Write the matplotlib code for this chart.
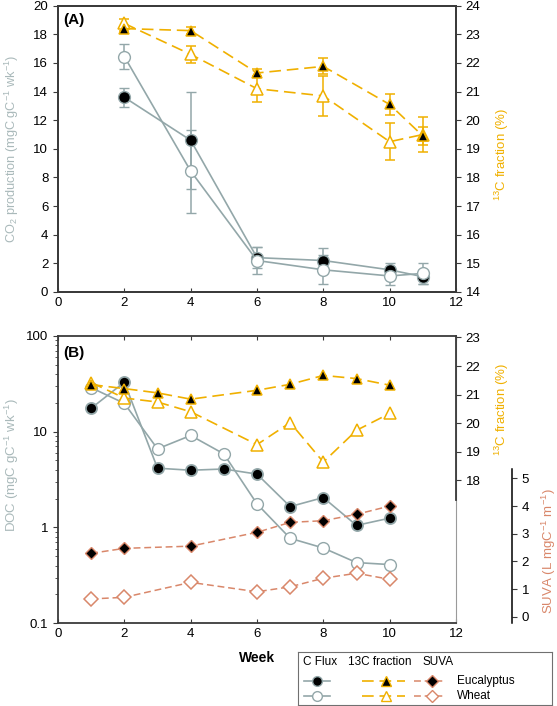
import matplotlib
matplotlib.use("Agg")
import matplotlib.pyplot as plt
from matplotlib.lines import Line2D
import numpy as np

plt.rcParams['font.family'] = ['Liberation Sans', 'DejaVu Sans']
plt.rcParams['font.size'] = 9.5
plt.rcParams['mathtext.fontset'] = 'custom'
plt.rcParams['mathtext.rm'] = 'Liberation Sans'
plt.rcParams['mathtext.default'] = 'regular'

# ---------------- data ----------------
weeks_A = [2, 4, 6, 8, 10, 11]
co2_euc = [13.6, 10.6, 2.4, 2.2, 1.55, 1.07]
co2_euc_err = [0.65, 3.4, 0.75, 0.85, 0.45, 0.5]
co2_wheat = [16.45, 8.45, 2.2, 1.55, 1.12, 1.3]
co2_wheat_err = [0.85, 2.9, 0.95, 1.0, 0.6, 0.75]
c13A_euc = [23.2, 23.13, 21.65, 21.88, 20.55, 19.45]
c13A_euc_err = [0.1, 0.12, 0.15, 0.28, 0.38, 0.3]
c13A_wheat = [23.38, 22.3, 21.1, 20.85, 19.25, 19.5]
c13A_wheat_err = [0.15, 0.3, 0.45, 0.7, 0.65, 0.6]

weeks_B = [1, 2, 3, 4, 5, 6, 7, 8, 9, 10]
doc_euc = [17.5, 32.7, 4.15, 3.95, 4.07, 3.6, 1.65, 2.05, 1.05, 1.25]
doc_wheat = [28.7, 19.7, 6.6, 9.1, 5.85, 1.76, 0.77, 0.61, 0.43, 0.41]
weeks_B13 = [1, 2, 3, 4, 6, 7, 8, 9, 10]
c13B_euc = [21.35, 21.21, 21.06, 20.84, 21.15, 21.36, 21.67, 21.56, 21.33]
c13B_wheat = [21.42, 20.88, 20.74, 20.4, 19.25, 20.02, 18.64, 19.75, 20.34]
weeks_suva = [1, 2, 4, 6, 7, 8, 9, 10]
suva_euc = [2.29, 2.47, 2.55, 3.05, 3.41, 3.47, 3.7, 4.0]
suva_wheat = [0.64, 0.70, 1.24, 0.90, 1.08, 1.39, 1.57, 1.35]

x_ticks = [0, 2, 4, 6, 8, 10, 12]
legend_groups = ["C Flux", "13C fraction", "SUVA"]
legend_labels = ["Eucalyptus", "Wheat"]

# ---------------- styles ----------------
GRAY = '#93a7a9'
GRAYLAB = '#a9b9ba'
ORANGE = '#f0b000'
SALMON = '#d9876a'
SPINE = '#3a3a3a'

W, H = 557, 706
fig = plt.figure(figsize=(W / 100, H / 100), dpi=100)

def fbox(l, t, r, b):
    return [l / W, 1 - b / H, (r - l) / W, (b - t) / H]

ms = 8.5
cap = 3.3
dash_13 = (7, 3.5)
dash_suva = (4.5, 2.5)
AXW = 398.0

def style_axis(ax):
    for s in ax.spines.values():
        s.set_color(SPINE)
        s.set_linewidth(1.3)
    ax.tick_params(axis='both', colors=SPINE, labelcolor='black', width=0.8, length=3.5)

# ---------------- panel A ----------------
axA = fig.add_axes(fbox(58, 5.7, 456, 292))
style_axis(axA)
axA.errorbar(weeks_A, co2_euc, yerr=co2_euc_err, color=GRAY, lw=1.2, marker='o', ms=ms,
             mfc='black', mec=GRAY, mew=1.0, ecolor=GRAY, elinewidth=1.1, capsize=cap, capthick=1.1, zorder=3)
axA.errorbar(weeks_A, co2_wheat, yerr=co2_wheat_err, color=GRAY, lw=1.2, marker='o', ms=ms,
             mfc='white', mec=GRAY, mew=1.0, ecolor=GRAY, elinewidth=1.1, capsize=cap, capthick=1.1, zorder=3)
axA.set_xlim(0, 12)
axA.set_ylim(0, 20)
axA.set_xticks(x_ticks)
axA.set_yticks(np.arange(0, 21, 2))
axA.tick_params(axis='x', direction='in', length=3)
axA.tick_params(axis='y', direction='out')
axA.set_ylabel('CO$_2$ production (mgC gC$^{-1}$ wk$^{-1}$)', color=GRAYLAB, fontsize=9.2)
axA.yaxis.set_label_coords(-37 / AXW, 0.5)
axA.text(0.013, 0.95, '(A)', transform=axA.transAxes, fontweight='bold', fontsize=11, va='center')

axA2 = axA.twinx()
style_axis(axA2)
axA2.errorbar(weeks_A, c13A_wheat, yerr=c13A_wheat_err, color=ORANGE, lw=1.2, dashes=dash_13,
              marker='^', ms=ms, mfc='white', mec=ORANGE, mew=1.1, ecolor=ORANGE, elinewidth=1.1,
              capsize=cap, capthick=1.1, zorder=3)
axA2.errorbar(weeks_A, c13A_euc, yerr=c13A_euc_err, color=ORANGE, lw=1.2, dashes=dash_13,
              marker='^', ms=ms - 1, mfc='black', mec=ORANGE, mew=1.1, ecolor=ORANGE, elinewidth=1.1,
              capsize=cap, capthick=1.1, zorder=3)
axA2.set_ylim(14, 24)
axA2.set_yticks(np.arange(14, 25, 1))
axA2.tick_params(axis='y', direction='out')
axA2.set_ylabel('$^{13}$C fraction (%)', color=ORANGE, fontsize=9.5, rotation=90)
axA2.yaxis.set_label_coords(1 + 37 / AXW, 0.48)

# ---------------- panel B ----------------
axB = fig.add_axes(fbox(58, 335.7, 456, 623.3))
style_axis(axB)
axB.spines['right'].set_color('#9a9a9a')
axB.spines['right'].set_linewidth(0.8)
axB.plot(weeks_B, doc_euc, color=GRAY, lw=1.2, marker='o', ms=ms - 0.5, mfc='black', mec=GRAY, mew=1.3, zorder=3)
axB.plot(weeks_B, doc_wheat, color=GRAY, lw=1.2, marker='o', ms=ms, mfc='white', mec=GRAY, mew=1.0, zorder=3)
axB.set_yscale('log')
axB.set_ylim(0.1, 100)
axB.set_xlim(0, 12)
axB.set_xticks(x_ticks)
axB.set_yticks([0.1, 1, 10, 100])
axB.set_yticklabels(['0.1', '1', '10', '100'])
axB.tick_params(axis='x', direction='in', length=3, top=True)
axB.tick_params(axis='y', which='major', direction='out', length=3.5)
axB.tick_params(axis='y', which='minor', direction='out', length=2, color=SPINE, width=0.6)
axB.set_ylabel('DOC (mgC gC$^{-1}$ wk$^{-1}$)', color=GRAYLAB, fontsize=9.5)
axB.yaxis.set_label_coords(-37 / AXW, 0.55)
axB.set_xlabel('Week', fontweight='bold', fontsize=10)
axB.xaxis.set_label_coords(0.5, -0.095)
axB.text(0.013, 0.94, '(B)', transform=axB.transAxes, fontweight='bold', fontsize=11, va='center')

axB2 = axB.twinx()
for s in ['top', 'bottom', 'left']:
    axB2.spines[s].set_visible(False)
axB2.spines['right'].set_color(SPINE)
axB2.spines['right'].set_linewidth(1.3)
axB2.tick_params(axis='y', colors=SPINE, labelcolor='black', width=0.8, length=3.5, direction='out')
axB2.plot(weeks_B13, c13B_wheat, color=ORANGE, lw=1.2, dashes=dash_13, marker='^', ms=ms,
          mfc='white', mec=ORANGE, mew=1.1, zorder=3)
axB2.plot(weeks_B13, c13B_euc, color=ORANGE, lw=1.2, dashes=dash_13, marker='^', ms=ms - 1,
          mfc='black', mec=ORANGE, mew=1.1, zorder=3)
axB2.set_ylim(13, 23.06)
axB2.set_yticks(np.arange(18, 24, 1))
axB2.spines['right'].set_bounds(17.3, 23.06)
axB2.set_ylabel('$^{13}$C fraction (%)', color=ORANGE, fontsize=9.5)
axB2.yaxis.set_label_coords(1 + 37 / AXW, 0.745)

axB3 = axB.twinx()
for s in ['top', 'bottom', 'left']:
    axB3.spines[s].set_visible(False)
axB3.spines['right'].set_position(('outward', 56 * 0.72))
axB3.spines['right'].set_color('black')
axB3.spines['right'].set_linewidth(1.1)
axB3.tick_params(axis='y', colors=SPINE, labelcolor='black', width=0.8, length=3.5, direction='out')
axB3.plot(weeks_suva, suva_euc, color=SALMON, lw=1.1, dashes=dash_suva, marker='D', ms=ms - 2,
          mfc='black', mec=SALMON, mew=1.0, zorder=3)
axB3.plot(weeks_suva, suva_wheat, color=SALMON, lw=1.1, dashes=dash_suva, marker='D', ms=ms - 1.5,
          mfc='white', mec=SALMON, mew=1.1, zorder=3)
axB3.set_ylim(-0.24, 10.16)
axB3.set_yticks(np.arange(0, 6, 1))
axB3.spines['right'].set_bounds(-0.24, 5.34)
axB3.set_ylabel('SUVA (L mgC$^{-1}$ m$^{-1}$)', color=SALMON, fontsize=9.5)
axB3.yaxis.set_label_coords(1 + 84 / AXW, 0.25)

# ---------------- legend ----------------
axL = fig.add_axes(fbox(298.3, 652.3, 551.7, 705))
axL.set_xlim(298.3, 551.7)
axL.set_ylim(705, 652.3)
axL.set_xticks([])
axL.set_yticks([])
for s in axL.spines.values():
    s.set_color('#707070')
    s.set_linewidth(0.8)
fs = 8.5
axL.text(302.7, 662.3, legend_groups[0], fontsize=fs, va='center')
axL.text(347.7, 662.3, legend_groups[1], fontsize=fs, va='center')
axL.text(422.7, 662.3, legend_groups[2], fontsize=fs, va='center')
rows = [681, 696]
fills = ['black', 'white']
for r, fc, lab in zip(rows, fills, legend_labels):
    axL.add_line(Line2D([304, 330], [r, r], color=GRAY, lw=1.2))
    axL.add_line(Line2D([317], [r], marker='o', ms=7, mfc=fc, mec=GRAY, mew=1.0, color=GRAY))
    axL.add_line(Line2D([361.7, 405], [r, r], color=ORANGE, lw=1.2, dashes=dash_13))
    axL.add_line(Line2D([386], [r], marker='^', ms=7, mfc=fc, mec=ORANGE, mew=1.0, color=ORANGE))
    axL.add_line(Line2D([414, 444], [r, r], color=SALMON, lw=1.1, dashes=dash_suva))
    axL.add_line(Line2D([431.7], [r], marker='D', ms=6, mfc=fc, mec=SALMON, mew=1.0, color=SALMON))
    axL.text(456.7, r, lab, fontsize=fs, va='center')

fig.savefig('out.png', dpi=100)
